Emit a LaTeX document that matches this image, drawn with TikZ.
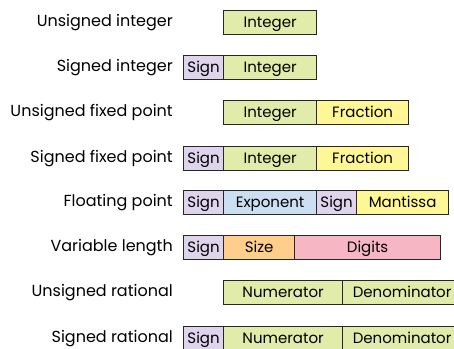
\documentclass[tikz,border=0pt]{standalone}
\usepackage{fontspec}
\setmainfont{Poppins}
\begin{document}
\begin{tikzpicture}[x=1pt,y=-1pt,
  field/.style={draw=black!85, line width=1.2pt, minimum height=24pt, inner sep=0pt, text height=12pt, text depth=2pt, anchor=north west, font=\fontsize{15}{17}\selectfont},
  lbl/.style={anchor=base east, inner sep=0pt, font=\fontsize{16}{18}\selectfont},
  sgn/.style={field, fill=sgncol, minimum width=40pt},
  int/.style={field, fill=intcol, minimum width=93pt},
  frac/.style={field, fill=fraccol, minimum width=92pt}]
\definecolor{sgncol}{RGB}{222,212,236}
\definecolor{intcol}{RGB}{226,236,170}
\definecolor{fraccol}{RGB}{255,246,150}
\definecolor{expcol}{RGB}{204,222,242}
\definecolor{sizecol}{RGB}{255,206,140}
\definecolor{digcol}{RGB}{246,182,196}
\useasboundingbox (0,0) rectangle (454,348);
% row 1
\node[lbl] (l1) at (173,26.5) {Unsigned integer};
\node[int] (r1a) at (223,10) {Integer};
% row 2
\node[lbl] (l2) at (173,71.5) {Signed integer};
\node[sgn] (r2a) at (183,55) {Sign};
\node[int] (r2b) at (223,55) {Integer};
% row 3
\node[lbl] (l3) at (173,116.5) {Unsigned fixed point};
\node[int] (r3a) at (223,100) {Integer};
\node[frac] (r3b) at (316,100) {Fraction};
% row 4
\node[lbl] (l4) at (173,162.5) {Signed fixed point};
\node[sgn] (r4a) at (183,146) {Sign};
\node[int] (r4b) at (223,146) {Integer};
\node[frac] (r4c) at (316,146) {Fraction};
% row 5
\node[lbl] (l5) at (173,206.5) {Floating point};
\node[sgn] (r5a) at (183,190) {Sign};
\node[field, fill=expcol, minimum width=93pt] (r5b) at (223,190) {Exponent};
\node[sgn] (r5c) at (316,190) {Sign};
\node[field, fill=fraccol, minimum width=92pt] (r5d) at (356,190) {Mantissa};
% row 6
\node[lbl] (l6) at (173,251.5) {Variable length};
\node[sgn] (r6a) at (183,235) {Sign};
\node[field, fill=sizecol, minimum width=71pt] (r6b) at (223,235) {Size};
\node[field, fill=digcol, minimum width=146pt] (r6c) at (294,235) {Digits};
% row 7
\node[lbl] (l7) at (173,296.5) {Unsigned rational};
\node[field, fill=intcol, minimum width=119pt] (r7a) at (223,280) {Numerator};
\node[field, fill=intcol, minimum width=119pt] (r7b) at (342,280) {Denominator};
% row 8
\node[lbl] (l8) at (173,342.5) {Signed rational};
\node[sgn] (r8a) at (183,326) {Sign};
\node[field, fill=intcol, minimum width=119pt] (r8b) at (223,326) {Numerator};
\node[field, fill=intcol, minimum width=119pt] (r8c) at (342,326) {Denominator};
\end{tikzpicture}
\end{document}
